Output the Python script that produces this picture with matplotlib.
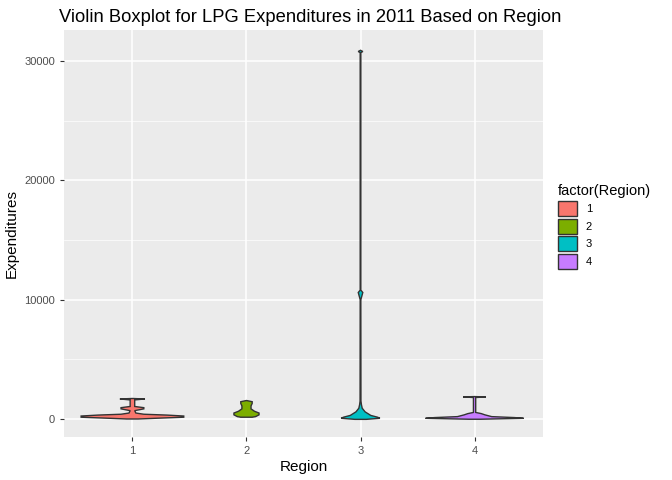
import matplotlib
matplotlib.use("Agg")
import matplotlib.pyplot as plt
from matplotlib.patches import Patch
import numpy as np

regions = [1, 2, 3, 4]
colors = ["#F8766D", "#7CAE00", "#00BFC4", "#C77CFF"]

# violin outlines: expenditure level and half-width (in category units)
prof_y = {
    1: [0, 60, 150, 250, 330, 400, 500, 700, 850, 950, 1050, 1600, 1680, 1720],
    2: [150, 200, 350, 500, 650, 850, 1100, 1300, 1450, 1550],
    3: [-30, 60, 150, 300, 600, 900, 1200, 1500, 10000, 10600, 10800, 30700, 30800, 30900],
    4: [-20, 60, 120, 200, 350, 450, 550, 1800, 1850, 1880],
}
prof_w = {
    1: [0.05, 0.2, 0.45, 0.45, 0.3, 0.1, 0.03, 0.02, 0.1, 0.1, 0.02, 0.02, 0.11, 0.0],
    2: [0.05, 0.08, 0.11, 0.11, 0.07, 0.04, 0.04, 0.05, 0.05, 0.0],
    3: [0.05, 0.17, 0.15, 0.09, 0.04, 0.015, 0.008, 0.004, 0.003, 0.02, 0.003, 0.003, 0.02, 0.0],
    4: [0.05, 0.43, 0.35, 0.15, 0.09, 0.06, 0.01, 0.01, 0.1, 0.0],
}

plt.rcParams["font.family"] = ["Liberation Sans", "DejaVu Sans"]
fig = plt.figure(figsize=(6.72, 4.8), dpi=100)
ax = fig.add_axes([64 / 672, 43 / 480, 479 / 672, 407 / 480])
ax.set_facecolor("#EBEBEB")
for r, c in zip(regions, colors):
    y = np.array(prof_y[r], dtype=float)
    w = np.array(prof_w[r])
    ax.fill(np.concatenate([r - w, (r + w)[::-1]]), np.concatenate([y, y[::-1]]),
            facecolor=c, edgecolor="#333333", linewidth=1.0, zorder=3)

ax.set_xlim(0.4, 4.6)
ax.set_ylim(-1508, 32600)
ax.set_xticks(regions)
ax.set_yticks([0, 10000, 20000, 30000])
ax.set_yticks([5000, 15000, 25000], minor=True)
ax.grid(which="major", color="white", linewidth=1.1, zorder=0)
ax.grid(which="minor", axis="y", color="white", linewidth=0.5, zorder=0)
ax.set_axisbelow(True)
for s in ax.spines.values():
    s.set_visible(False)
ax.tick_params(which="both", colors="#333333", labelcolor="#4D4D4D", labelsize=8, length=3)
ax.tick_params(which="minor", length=0)
ax.set_xlabel("Region", fontsize=11, labelpad=3)
ax.set_ylabel("Expenditures", fontsize=11, labelpad=4)
ax.set_title("Violin Boxplot for LPG Expenditures in 2011 Based on Region", fontsize=13.2,
             loc="left", x=-0.01)

handles = [Patch(facecolor=c, edgecolor="#333333", label=str(r)) for r, c in zip(regions, colors)]
leg = fig.legend(handles=handles, title="factor(Region)", loc="upper left",
                 bbox_to_anchor=(548 / 672, 1 - 174 / 480), frameon=False, fontsize=8,
                 title_fontsize=10.5, handlelength=1.7, handleheight=1.7, labelspacing=0.25,
                 handletextpad=0.8)
leg._legend_box.align = "left"

fig.savefig("out.png", dpi=100)
